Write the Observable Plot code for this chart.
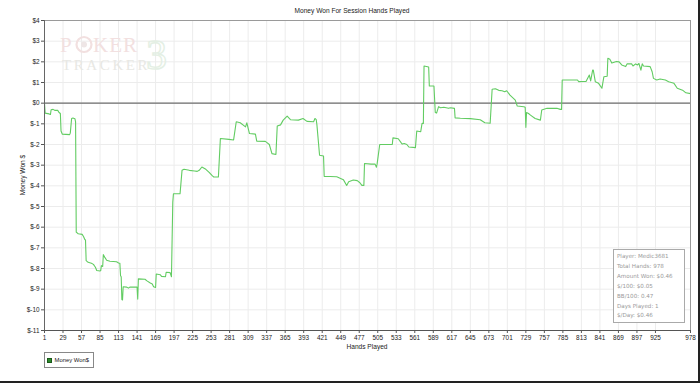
<!DOCTYPE html>
<html>
<head>
<meta charset="utf-8">
<script src="https://cdn.jsdelivr.net/npm/d3@7"></script>
<script src="https://cdn.jsdelivr.net/npm/@observablehq/plot@0.6"></script>
<style>
  html, body { margin: 0; padding: 0; background: #fff; }
  #wrap { position: relative; width: 700px; height: 383px; overflow: hidden; background: #fff; font-family: "Liberation Sans", Arial, sans-serif; }
  .abs { position: absolute; white-space: nowrap; }
  #title { top: 7px; left: 0; width: 704px; text-align: center; font-size: 6.6px; color: #222; }
  #xlab { top: 343px; left: 44px; width: 646px; text-align: center; font-size: 6.6px; color: #222; }
  #ylab { top: 175px; left: 22px; transform: translate(-50%, -50%) rotate(-90deg); font-size: 6.6px; color: #222; }
  #legend { left: 44px; top: 352px; width: 50px; height: 16px; border: 1px solid #888; box-sizing: border-box; font-size: 5.9px; color: #222; }
  #legend .sw { position: absolute; left: 2px; top: 5px; width: 5px; height: 5px; background: #2e8b2e; border: 0.5px solid #1a5a1a; box-sizing: border-box; }
  #legend .tx { position: absolute; left: 9.5px; top: 4px; }
  #stats { left: 613px; top: 249px; width: 72px; height: 74px; border: 1px solid #aaa; box-sizing: border-box; background: #fff; font-family: "DejaVu Sans", sans-serif; font-size: 5.6px; color: #9a9a9a; }
  #stats div { position: absolute; left: 3px; }
  #edgeR { right: 0; top: 0; width: 2px; height: 383px; background: #222; }
  #edgeB { left: 0; bottom: 0; width: 700px; height: 2px; background: #222; }
  #wm { left: 58px; top: 28px; width: 140px; height: 50px; pointer-events: none; overflow: visible; }
</style>
</head>
<body>
<div id="wrap">
  <div id="chart"></div>
  <svg id="wm" class="abs" viewBox="0 0 140 50">
    <text x="2" y="24" font-family="Liberation Serif, DejaVu Serif, serif" font-size="21" fill="#f2e0e0" letter-spacing="1">P</text>
    <circle cx="26" cy="16.5" r="7.5" fill="none" stroke="#f2e0e0" stroke-width="2.2"/>
    <circle cx="26" cy="16.5" r="3" fill="#eee6e6"/>
    <text x="35" y="24" font-family="Liberation Serif, DejaVu Serif, serif" font-size="21" fill="#f2e0e0" letter-spacing="1">KER</text>
    <text x="4" y="42" font-family="Liberation Serif, DejaVu Serif, serif" font-size="15" fill="#e8e8e4" letter-spacing="2.6">TRACKER</text>
    <text x="88" y="41" font-family="Liberation Serif, DejaVu Serif, serif" font-size="42" fill="none" stroke="#e4efe4" stroke-width="1.4">3</text>
  </svg>
  <div id="title" class="abs">Money Won For Session Hands Played</div>
  <div id="ylab" class="abs">Money Won $</div>
  <div id="xlab" class="abs">Hands Played</div>
  <div id="stats" class="abs"></div>
  <div id="legend" class="abs"><span class="sw"></span><span class="tx">Money Won$</span></div>
  <div id="edgeR" class="abs"></div>
  <div id="edgeB" class="abs"></div>
</div>
<script>
// ---- data ----
const hands = [1,2,8,10,11,14,17,21,23,25,26,28,39,40,42,44,47,48,49,52,58,60,62,63,64,67,72,75,78,80,85,86,87,89,90,92,95,100,110,113,115,116,117,118,119,120,125,128,130,141,142,143,153,156,161,164,166,169,170,176,178,184,185,191,193,195,196,206,209,212,220,228,232,235,239,245,250,255,257,264,267,280,287,291,297,305,307,311,320,322,335,337,341,345,351,353,358,362,368,373,385,392,398,408,410,412,413,417,423,424,433,443,453,458,461,468,474,478,481,484,485,495,501,503,504,508,527,528,536,540,542,545,549,552,562,564,570,572,574,575,582,583,590,592,594,597,600,605,612,615,621,622,630,645,660,667,675,678,683,688,693,697,700,705,713,716,726,728,729,730,733,736,743,751,753,761,776,781,783,784,807,809,816,820,825,827,830,831,834,839,844,847,852,853,856,859,866,870,874,880,882,889,891,895,898,900,903,905,907,917,920,922,927,932,940,945,953,958,966,971,978];
const moneyWon = [0,-0.48,-0.52,-0.55,-0.32,-0.3,-0.35,-0.35,-0.45,-0.5,-1.35,-1.5,-1.52,-1.45,-0.74,-0.72,-0.75,-0.9,-6.24,-6.32,-6.35,-6.45,-6.6,-6.62,-7.62,-7.7,-7.75,-7.8,-7.94,-8.1,-8.12,-8.1,-7.86,-7.9,-7.33,-7.45,-7.6,-7.65,-7.67,-7.73,-7.75,-8.35,-8.4,-9.5,-9.52,-8.88,-8.9,-8.95,-8.9,-8.9,-9.48,-8.5,-8.52,-8.6,-8.7,-8.75,-8.88,-8.92,-8.27,-8.3,-8.38,-8.4,-8.18,-8.2,-8.4,-4.8,-4.38,-4.38,-3.25,-3.2,-3.25,-3.28,-3.3,-3.25,-3.09,-3.2,-3.35,-3.52,-3.57,-3.57,-1.71,-1.75,-1.78,-0.9,-0.95,-1.15,-0.95,-1.47,-1.5,-1.84,-1.85,-1.9,-2.0,-2.44,-2.48,-1.1,-1.05,-0.82,-0.63,-0.8,-0.82,-0.74,-0.88,-0.9,-0.74,-0.8,-1.05,-2.52,-2.56,-3.54,-3.55,-3.56,-3.7,-3.98,-3.8,-3.72,-3.75,-3.85,-3.98,-3.98,-2.92,-2.95,-2.95,-3.1,-2.95,-2.0,-2.0,-1.68,-1.72,-1.9,-1.98,-1.95,-2.0,-2.12,-2.15,-1.35,-1.38,-0.98,-0.98,1.8,1.75,0.83,0.83,-0.45,-0.48,-0.17,-0.22,-0.2,-0.25,-0.22,-0.25,-0.71,-0.73,-0.75,-0.8,-0.95,-0.97,0.67,0.7,0.62,0.6,0.55,0.6,0.39,0.15,-0.14,-0.17,-0.2,-1.17,-0.45,-0.5,-0.58,-0.74,-0.82,-0.33,-0.25,-0.25,-0.3,-0.3,1.12,1.12,1.04,1.05,1.05,1.36,1.08,1.6,1.6,1.04,0.96,0.72,1.28,1.3,2.17,2.12,1.94,2.02,2.0,1.85,1.77,1.9,1.9,1.8,1.9,1.85,1.92,1.6,1.9,1.8,1.77,1.52,1.2,1.12,1.17,1.12,1.04,0.96,0.72,0.63,0.5,0.46];
const xTicks = [1,29,57,85,113,141,169,197,225,253,281,309,337,365,393,421,449,477,505,533,561,589,617,645,673,701,729,757,785,813,841,869,897,925,978];
const yTicks = [4,3,2,1,0,-1,-2,-3,-4,-5,-6,-7,-8,-9,-10,-11];
const statLines = ["Player: Medic3681","Total Hands: 978","Amount Won: $0.46","$/100: $0.05","BB/100: 0.47","Days Played: 1","$/Day: $0.46"];
const seriesName = "Money Won$";

const data = hands.map((h, i) => ({hand: h, won: moneyWon[i]}));

const chart = Plot.plot({
  width: 700,
  height: 383,
  marginTop: 20,
  marginBottom: 53,
  marginLeft: 44,
  marginRight: 10,
  x: {domain: [1, 978]},
  y: {domain: [-11, 4]},
  style: {fontFamily: "Liberation Sans, Arial, sans-serif", fontSize: "6.4px", color: "#222", background: "transparent"},
  marks: [
    Plot.gridX(xTicks, {stroke: "#ececec", strokeOpacity: 1}),
    Plot.gridY(yTicks, {stroke: "#ececec", strokeOpacity: 1}),
    Plot.ruleY([0], {stroke: "#6e6e6e", strokeWidth: 1.3}),
    Plot.line(data, {x: "hand", y: "won", stroke: "#62cc62", strokeWidth: 1.1}),
    Plot.frame({stroke: "#9a9a9a"}),
    Plot.ruleY([-11], {stroke: "#555"}),
    Plot.ruleX([1], {stroke: "#666"}),
    Plot.axisX(xTicks, {tickFormat: d => String(d), tickSize: 3, tickPadding: 2, label: null, stroke: "#555"}),
    Plot.axisY(yTicks, {tickFormat: d => "$" + d, tickSize: 3, tickPadding: 2, label: null, stroke: "#555"})
  ]
});
document.getElementById("chart").appendChild(chart);

const stats = document.getElementById("stats");
statLines.forEach((t, i) => {
  const d = document.createElement("div");
  d.textContent = t;
  d.style.top = (3 + i * 9.9) + "px";
  stats.appendChild(d);
});
document.querySelector("#legend .tx").textContent = seriesName;
</script>
</body>
</html>
